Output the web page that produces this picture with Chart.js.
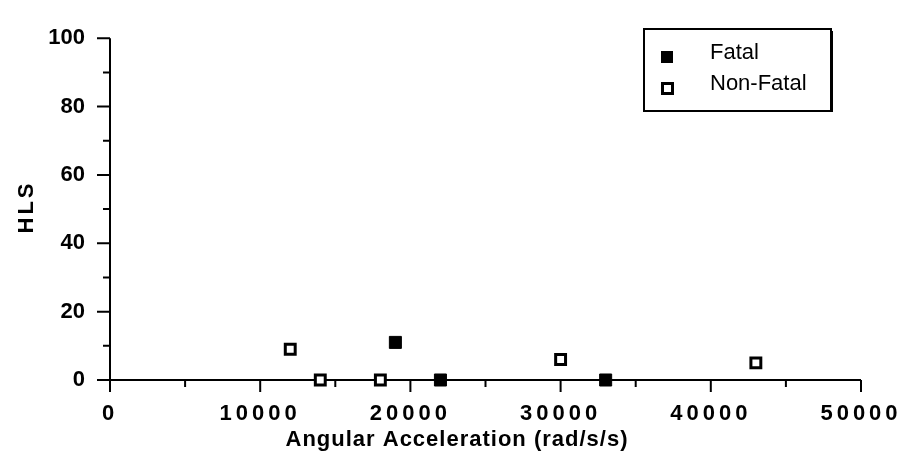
<!DOCTYPE html>
<html>
<head>
<meta charset="utf-8">
<title>HLS vs Angular Acceleration</title>
<script src="https://cdn.jsdelivr.net/npm/chart.js@4.4.1/dist/chart.umd.min.js"></script>
<style>
  html, body { margin: 0; padding: 0; background: #fff; }
</style>
</head>
<body>
<canvas id="grafico" width="908" height="462"></canvas>
<script>
// datos del grafico
const xTicks = [0, 10000, 20000, 30000, 40000, 50000];
const yTicks = [0, 20, 40, 60, 80, 100];
const fatalX = [19000, 22000, 33000];
const fatalY = [11, 0, 0];
const nonFatalX = [12000, 14000, 18000, 30000, 43000];
const nonFatalY = [9, 0, 0, 6, 5];
const legendLabels = ['Fatal', 'Non-Fatal'];
const xTitle = 'Angular Acceleration (rad/s/s)';
const yTitle = 'HLS';

const ink = '#000';
const FONT = '"Liberation Sans", Arial, sans-serif';

function toPoints(xs, ys) {
  return xs.map((x, i) => ({ x: x, y: ys[i] }));
}

// ejes con marcas mayores y menores, dibujados antes de los puntos
const ejes = {
  id: 'ejes',
  beforeDraw(chart) {
    // separa un poco los numeros del eje X
    const xs = chart.scales.x;
    if (!xs._espaciado) {
      const original = xs.drawLabels;
      xs.drawLabels = function (area) {
        this.ctx.save();
        this.ctx.letterSpacing = '4px';
        original.call(this, area);
        this.ctx.restore();
      };
      xs._espaciado = true;
    }
  },
  beforeDatasetsDraw(chart) {
    const ctx = chart.ctx;
    const x = chart.scales.x, y = chart.scales.y;
    const x0 = x.getPixelForValue(xTicks[0]);
    const x1 = x.getPixelForValue(xTicks[xTicks.length - 1]);
    const y0 = y.getPixelForValue(yTicks[0]);
    const y1 = y.getPixelForValue(yTicks[yTicks.length - 1]);

    ctx.save();
    ctx.strokeStyle = ink;
    ctx.lineWidth = 2;
    ctx.beginPath();
    ctx.moveTo(x0, y1);
    ctx.lineTo(x0, y0 + 12);
    ctx.moveTo(x0, y0);
    ctx.lineTo(x1, y0);

    xTicks.forEach((v, i) => {
      const px = x.getPixelForValue(v);
      ctx.moveTo(px, y0);
      ctx.lineTo(px, y0 + 12);
      if (i < xTicks.length - 1) {
        const m = x.getPixelForValue((v + xTicks[i + 1]) / 2);
        ctx.moveTo(m, y0);
        ctx.lineTo(m, y0 + 7);
      }
    });

    yTicks.forEach((v, i) => {
      const py = y.getPixelForValue(v);
      ctx.moveTo(x0, py);
      ctx.lineTo(x0 - 13, py);
      if (i < yTicks.length - 1) {
        const m = y.getPixelForValue((v + yTicks[i + 1]) / 2);
        ctx.moveTo(x0, m);
        ctx.lineTo(x0 - 7, m);
      }
    });
    ctx.stroke();
    ctx.restore();
  },
  afterDraw(chart) {
    const ctx = chart.ctx;
    ctx.save();
    ctx.fillStyle = ink;

    // titulos de los ejes
    ctx.font = 'bold 22px ' + FONT;
    ctx.letterSpacing = '1px';
    ctx.textAlign = 'center';
    ctx.textBaseline = 'alphabetic';
    ctx.fillText(xTitle, 457, 446);

    ctx.save();
    ctx.translate(33, 207);
    ctx.rotate(-Math.PI / 2);
    ctx.letterSpacing = '3px';
    ctx.fillText(yTitle, 0, 0);
    ctx.restore();

    // leyenda
    ctx.letterSpacing = '0px';
    ctx.strokeStyle = ink;
    ctx.lineWidth = 2;
    ctx.strokeRect(644, 29, 187, 82);
    ctx.fillRect(831, 31, 2, 81);

    ctx.fillRect(661, 51, 12, 12);
    ctx.lineWidth = 3;
    ctx.strokeRect(662.5, 83.5, 10, 10);

    ctx.font = '22px ' + FONT;
    ctx.textAlign = 'left';
    ctx.fillText(legendLabels[0], 710, 59);
    ctx.fillText(legendLabels[1], 710, 90);
    ctx.restore();
  }
};

new Chart(document.getElementById('grafico'), {
  type: 'scatter',
  data: {
    datasets: [
      {
        label: legendLabels[0],
        data: toPoints(fatalX, fatalY),
        pointStyle: 'rect',
        pointRadius: 8.5,
        pointHoverRadius: 8.5,
        backgroundColor: ink,
        borderColor: ink,
        borderWidth: 1,
        clip: false
      },
      {
        label: legendLabels[1],
        data: toPoints(nonFatalX, nonFatalY),
        pointStyle: 'rect',
        pointRadius: 7,
        pointHoverRadius: 7,
        backgroundColor: '#fff',
        borderColor: ink,
        borderWidth: 3,
        clip: false
      }
    ]
  },
  options: {
    responsive: false,
    animation: false,
    devicePixelRatio: 1,
    layout: { padding: { top: 19, right: 47, left: 0, bottom: 0 } },
    plugins: {
      legend: { display: false },
      tooltip: { enabled: false }
    },
    scales: {
      x: {
        type: 'linear',
        min: xTicks[0],
        max: xTicks[xTicks.length - 1],
        afterBuildTicks: (s) => { s.ticks = xTicks.map(v => ({ value: v })); },
        afterFit: (s) => {
          s.height = 82;
          s.paddingLeft = 0;
          s.paddingRight = 0;
        },
        grid: { display: false, drawTicks: false },
        border: { display: false },
        ticks: {
          color: ink,
          padding: 21,
          maxRotation: 0,
          autoSkip: false,
          font: { family: FONT, size: 22, weight: 'bold' },
          callback: (v) => String(v)
        }
      },
      y: {
        type: 'linear',
        min: yTicks[0],
        max: yTicks[yTicks.length - 1],
        afterBuildTicks: (s) => { s.ticks = yTicks.map(v => ({ value: v })); },
        afterFit: (s) => { s.width = 110; },
        grid: { display: false, drawTicks: false },
        border: { display: false },
        ticks: {
          color: ink,
          padding: 25,
          font: { family: FONT, size: 22, weight: 'bold' },
          callback: (v) => String(v)
        }
      }
    }
  },
  plugins: [ejes]
});
</script>
</body>
</html>
